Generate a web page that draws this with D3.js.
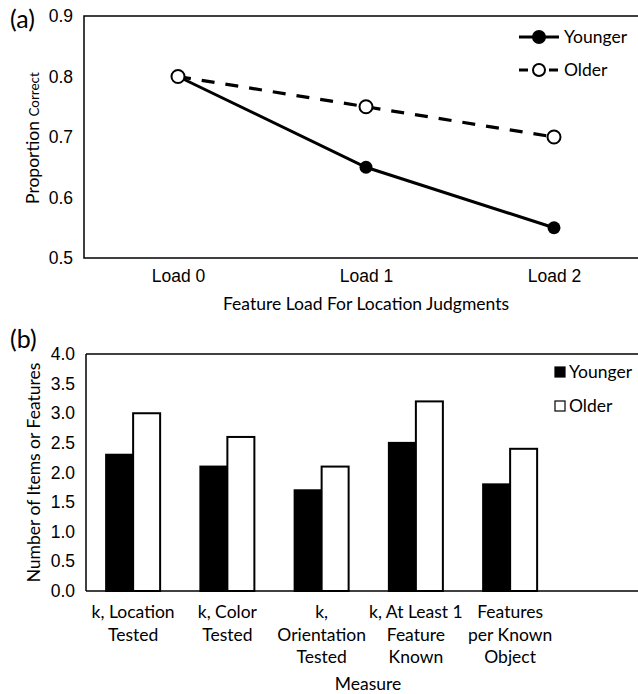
<!DOCTYPE html>
<html>
<head>
<meta charset="utf-8">
<script src="https://cdn.jsdelivr.net/npm/d3@7"></script>
<style>
  body { margin:0; background:#fff; }
  svg { display:block; font-family: Lato, "Open Sans", sans-serif; }
  .tick text { font-size:17.5px; fill:#000; }
</style>
</head>
<body>
<svg id="chart" width="638" height="694"></svg>
<script>
// panel (a)
const loads = ["Load 0", "Load 1", "Load 2"];
const younger = [0.80, 0.65, 0.55];
const older = [0.80, 0.75, 0.70];
const yTicksA = [0.5, 0.6, 0.7, 0.8, 0.9];

// panel (b)
const measures = [
  ["k, Location", "Tested"],
  ["k, Color", "Tested"],
  ["k,", "Orientation", "Tested"],
  ["k, At Least 1", "Feature", "Known"],
  ["Features", "per Known", "Object"]
];
const youngerB = [2.3, 2.1, 1.7, 2.5, 1.8];
const olderB = [3.0, 2.6, 2.1, 3.2, 2.4];
const yTicksB = [0, 0.5, 1, 1.5, 2, 2.5, 3, 3.5, 4];

const FS = 17.5;
const svg = d3.select('#chart');

// ---------- (a) line chart ----------
const A = { left:84, right:648, top:16, bottom:258 };
const xA = d3.scalePoint().domain(loads).range([A.left, A.right]).padding(0.5);
const yA = d3.scaleLinear().domain([0.5, 0.9]).range([A.bottom, A.top]);

const gA = svg.append('g');
gA.append('rect')
  .attr('x', A.left).attr('y', A.top)
  .attr('width', A.right - A.left).attr('height', A.bottom - A.top)
  .attr('fill', 'none').attr('stroke', '#000').attr('stroke-width', 1.5);

gA.append('g')
  .attr('transform', `translate(${A.left},0)`)
  .call(d3.axisLeft(yA).tickValues(yTicksA).tickFormat(d3.format('.1f')).tickSize(0).tickPadding(11))
  .call(g => g.select('.domain').remove());

gA.append('g')
  .attr('transform', `translate(0,${A.bottom})`)
  .call(d3.axisBottom(xA).tickSize(0).tickPadding(12))
  .call(g => g.select('.domain').remove());

gA.append('text')
  .attr('x', 366).attr('y', 310)
  .attr('text-anchor', 'middle').attr('font-size', FS)
  .text('Feature Load For Location Judgments');

const yTitleA = gA.append('text')
  .attr('transform', 'translate(39,138) rotate(-90)')
  .attr('text-anchor', 'middle');
yTitleA.append('tspan').attr('font-size', FS).text('Proportion ');
yTitleA.append('tspan').attr('font-size', 13.5).text('Correct');

svg.append('text').attr('x', 10).attr('y', 28).attr('font-size', 25).text('(a)');

const line = d3.line().x((d, i) => xA(loads[i])).y(d => yA(d));

gA.append('path').datum(older)
  .attr('d', line).attr('fill', 'none').attr('stroke', '#000')
  .attr('stroke-width', 3.2).attr('stroke-dasharray', '13,11');
gA.append('path').datum(younger)
  .attr('d', line).attr('fill', 'none').attr('stroke', '#000')
  .attr('stroke-width', 3);

gA.selectAll('circle.young').data(younger).join('circle')
  .attr('class', 'young')
  .attr('cx', (d, i) => xA(loads[i])).attr('cy', d => yA(d))
  .attr('r', 6.5).attr('fill', '#000');
gA.selectAll('circle.old').data(older).join('circle')
  .attr('class', 'old')
  .attr('cx', (d, i) => xA(loads[i])).attr('cy', d => yA(d))
  .attr('r', 6.5).attr('fill', '#fff').attr('stroke', '#000').attr('stroke-width', 2);

// legend (a)
const legA = gA.append('g');
[['Younger', 37, false], ['Older', 70, true]].forEach(([name, y, dashed]) => {
  legA.append('line')
    .attr('x1', 519).attr('x2', 559).attr('y1', y).attr('y2', y)
    .attr('stroke', '#000').attr('stroke-width', 3)
    .attr('stroke-dasharray', dashed ? '9,6' : null);
  legA.append('circle').attr('cx', 539).attr('cy', y).attr('r', 6)
    .attr('fill', dashed ? '#fff' : '#000').attr('stroke', '#000').attr('stroke-width', 2);
  legA.append('text').attr('x', 564).attr('y', y).attr('dy', '0.35em')
    .attr('font-size', FS).text(name);
});

// ---------- (b) bar chart ----------
const B = { left:86, top:354, bottom:591 };
const step = 94.25;
const xB = d3.scaleBand().domain(d3.range(measures.length))
  .range([B.left, B.left + step * measures.length]);
const xSub = d3.scaleBand().domain(['y', 'o']).range([0, 54]);
const yB = d3.scaleLinear().domain([0, 4]).range([B.bottom, B.top]);

const gB = svg.append('g');
gB.append('line').attr('x1', B.left).attr('x2', 660).attr('y1', B.top).attr('y2', B.top)
  .attr('stroke', '#000').attr('stroke-width', 1.5);
gB.append('line').attr('x1', B.left).attr('x2', B.left).attr('y1', B.top).attr('y2', B.bottom)
  .attr('stroke', '#000').attr('stroke-width', 1.5);

gB.append('g')
  .attr('transform', `translate(${B.left},0)`)
  .call(d3.axisLeft(yB).tickValues(yTicksB).tickFormat(d3.format('.1f')).tickSize(0).tickPadding(11))
  .call(g => g.select('.domain').remove());

const groups = gB.selectAll('g.grp').data(measures).join('g')
  .attr('class', 'grp')
  .attr('transform', (d, i) => `translate(${xB(i) + xB.bandwidth() / 2 - 27},0)`);

groups.append('rect')
  .attr('x', xSub('y')).attr('width', xSub.bandwidth())
  .attr('y', (d, i) => yB(youngerB[i])).attr('height', (d, i) => B.bottom - yB(youngerB[i]))
  .attr('fill', '#000').attr('stroke', '#000').attr('stroke-width', 2);
groups.append('rect')
  .attr('x', xSub('o')).attr('width', xSub.bandwidth())
  .attr('y', (d, i) => yB(olderB[i])).attr('height', (d, i) => B.bottom - yB(olderB[i]))
  .attr('fill', '#fff').attr('stroke', '#000').attr('stroke-width', 2);

gB.append('line').attr('x1', B.left).attr('x2', 660).attr('y1', B.bottom).attr('y2', B.bottom)
  .attr('stroke', '#000').attr('stroke-width', 1.5);

// category labels
gB.selectAll('text.cat').data(measures).join('text')
  .attr('class', 'cat')
  .attr('text-anchor', 'middle').attr('font-size', FS)
  .attr('transform', (d, i) => `translate(${xB(i) + xB.bandwidth() / 2},618)`)
  .selectAll('tspan').data(d => d).join('tspan')
    .attr('x', 0).attr('y', (d, j) => j * 22.5)
    .text(d => d);

gB.append('text').attr('x', 368).attr('y', 690)
  .attr('text-anchor', 'middle').attr('font-size', FS).text('Measure');

gB.append('text')
  .attr('transform', `translate(40,${(B.top + B.bottom) / 2}) rotate(-90)`)
  .attr('text-anchor', 'middle').attr('font-size', FS)
  .text('Number of Items or Features');

svg.append('text').attr('x', 10).attr('y', 348).attr('font-size', 25).text('(b)');

// legend (b)
[['Younger', 372, '#000'], ['Older', 406, '#fff']].forEach(([name, y, fill]) => {
  gB.append('rect').attr('x', 555).attr('y', y - 5).attr('width', 10).attr('height', 10)
    .attr('fill', fill).attr('stroke', '#000').attr('stroke-width', 1.2);
  gB.append('text').attr('x', 569).attr('y', y).attr('dy', '0.35em')
    .attr('font-size', FS).text(name);
});
</script>
</body>
</html>
